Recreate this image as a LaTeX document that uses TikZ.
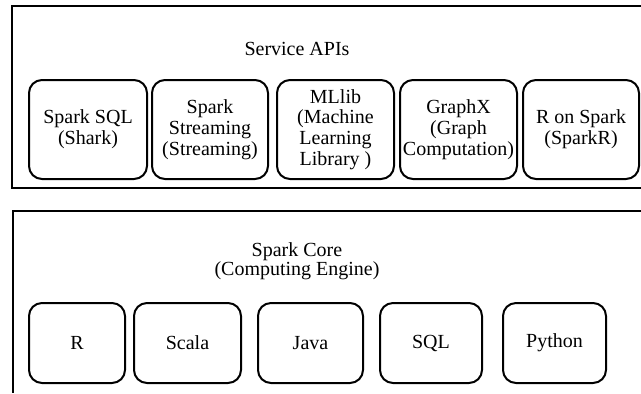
\documentclass[tikz,border=0pt]{standalone}
\usepackage{fontspec}
\setmainfont{Liberation Serif}
\newfontfamily\tms{Liberation Serif}
\begin{document}
\begin{tikzpicture}[x=0.5pt,y=-0.5pt,
  ibox/.style={draw, line width=1pt, rounded corners=6.5pt, align=center, inner sep=0pt,
    font=\tms\fontsize{10}{10.4}\selectfont},
  ttl/.style={align=center, inner sep=0pt, font=\tms\fontsize{10}{9.3}\selectfont},
  outer/.style={line width=1pt}]
\useasboundingbox (0,0) rectangle (641,393);
\fill[white] (0,0) rectangle (641,393);
% outer frames
\coordinate (t1) at (641,6);
\coordinate (t2) at (12,6);
\coordinate (t3) at (12,188);
\coordinate (t4) at (641,188);
\draw[outer] (t1) -- (t2) -- (t3) -- (t4);
\coordinate (b1) at (641,211);
\coordinate (b2) at (13,211);
\coordinate (b3) at (13,393);
\draw[outer] (b1) -- (b2) -- (b3);
% titles
\node[ttl] (svc) at (297,49) {Service APIs};
\node[ttl] (core) at (297,261) {Spark Core\\(Computing Engine)};
% service boxes
\node[ibox, minimum width=59pt, minimum height=49.5pt] (sql) at (88,129.5) {Spark SQL\\(Shark)};
\node[ibox, minimum width=58pt, minimum height=49.5pt] (stream) at (210,129.5) {Spark\\Streaming\\(Streaming)};
\node[ibox, minimum width=58.5pt, minimum height=49.5pt] (ml) at (335.5,129.5) {MLlib\\(Machine\\Learning\\Library )};
\node[ibox, minimum width=58.5pt, minimum height=49.5pt] (gx) at (458.5,129.5) {GraphX\\(Graph\\Computation)};
\node[ibox, minimum width=58pt, minimum height=49.5pt] (sr) at (581,129.5) {R on Spark\\(SparkR)};
% language boxes
\node[ibox, minimum width=48pt, minimum height=40pt] (r) at (77,343) {R};
\node[ibox, minimum width=53.5pt, minimum height=40pt] (scala) at (187.5,343) {Scala};
\node[ibox, minimum width=52.5pt, minimum height=40pt] (java) at (310.5,343) {Java};
\node[ibox, minimum width=51pt, minimum height=40pt] (lsql) at (431,343) {SQL};
\node[ibox, minimum width=51.5pt, minimum height=40pt] (py) at (554.5,343) {Python};
\end{tikzpicture}
\end{document}
